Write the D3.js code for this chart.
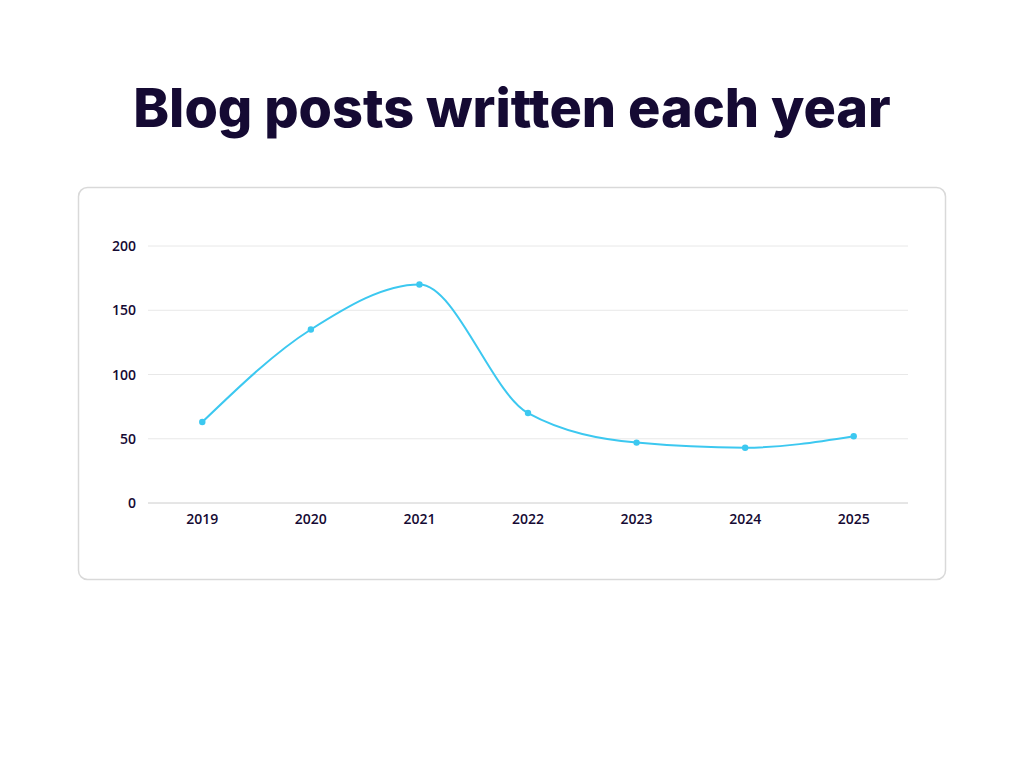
<!DOCTYPE html>
<html><head><meta charset="utf-8">
<script src="https://cdn.jsdelivr.net/npm/d3@7"></script>
<style>body{margin:0;background:#fff;font-family:"Open Sans",sans-serif}</style>
</head><body>
<svg id="c" width="1024" height="768"></svg>
<script>
const years = ["2019","2020","2021","2022","2023","2024","2025"];
const posts = [63,135,170,70,47,43,52];
const yTicks = [0,50,100,150,200];

const svg = d3.select("#c");
const ink = "#150a33";
svg.append("text").attr("x",512).attr("y",127).attr("text-anchor","middle")
  .attr("font-size",54).attr("font-weight",800).attr("fill",ink)
  .attr("font-family","Inter, 'Open Sans', sans-serif").text("Blog posts written each year");
svg.append("rect").attr("x",78.5).attr("y",187.5).attr("width",867).attr("height",392)
  .attr("rx",9).attr("fill","#fff").attr("stroke","#d9d9d9").attr("stroke-width",1.5);

const x = d3.scaleBand().domain(years).range([148,908]);
const y = d3.scaleLinear().domain([0,200]).range([503,246]);

const g = svg.append("g");
yTicks.forEach(t=>{
  g.append("line").attr("x1",148).attr("x2",908).attr("y1",y(t)).attr("y2",y(t))
   .attr("stroke", t===0?"#cccccc":"#e8e8e8").attr("stroke-width",1);
  g.append("text").attr("x",136).attr("y",y(t)+5).attr("text-anchor","end")
   .attr("font-size",14).attr("font-weight",600).attr("fill",ink).text(t);
});
years.forEach(yr=>{
  g.append("text").attr("x",x(yr)+x.bandwidth()/2).attr("y",524).attr("text-anchor","middle")
   .attr("font-size",14).attr("font-weight",600).attr("fill",ink).text(yr);
});
const cx = (d,i)=>x(years[i])+x.bandwidth()/2;
const line = d3.line().x(cx).y(d=>y(d)).curve(d3.curveMonotoneX);
g.append("path").attr("d",line(posts)).attr("fill","none").attr("stroke","#3cc8f0").attr("stroke-width",2);
g.selectAll("circle").data(posts).join("circle").attr("cx",cx).attr("cy",d=>y(d)).attr("r",3.2).attr("fill","#3cc8f0");
</script>
</body></html>
